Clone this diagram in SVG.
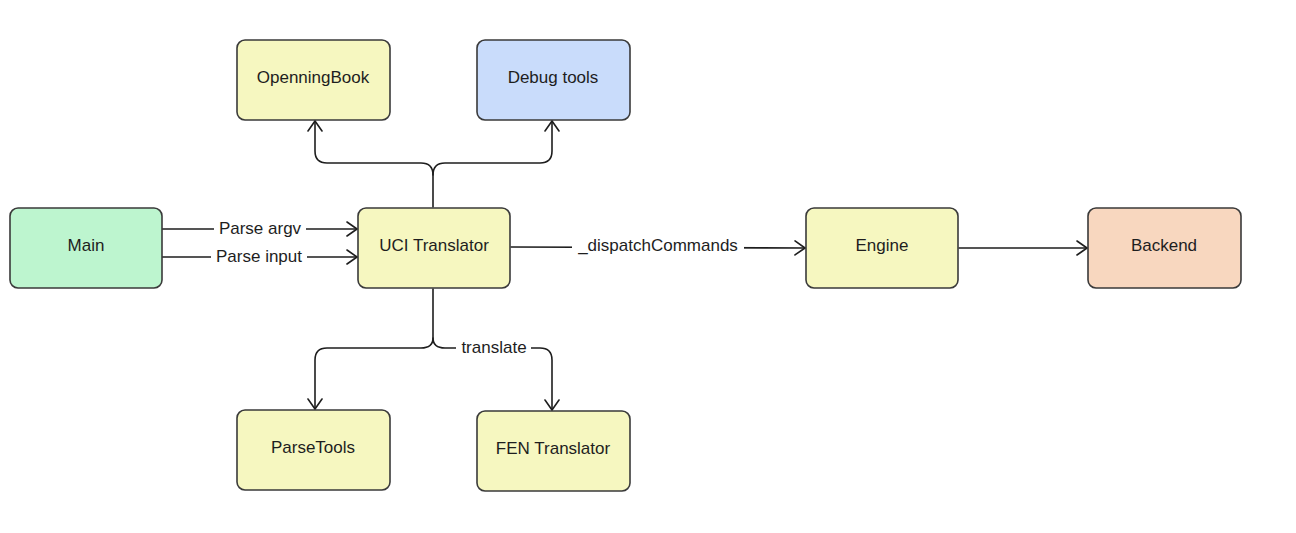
<svg xmlns="http://www.w3.org/2000/svg" width="1296" height="533" viewBox="0 0 1296 533">
<style>
.node rect{stroke:#3a3a3a;stroke-width:1.6}
.node text{font-family:"Liberation Sans",Arial,sans-serif;font-size:17px;fill:#1e1e1e;text-anchor:middle;dominant-baseline:central}
.y{fill:#f6f7c0}
.g{fill:#bdf5cf}
.b{fill:#c9dcfb}
.o{fill:#f8d7bf}
.edge{fill:none;stroke:#1e1e1e;stroke-width:1.6;stroke-linecap:round;stroke-linejoin:round}
.lbl{font-family:"Liberation Sans",Arial,sans-serif;font-size:17px;fill:#1e1e1e;text-anchor:middle;dominant-baseline:central}
.lblbg{fill:#ffffff}
</style>
<defs>
<marker id="arr" viewBox="0 0 12 16" refX="11" refY="8" markerWidth="12" markerHeight="16" markerUnits="userSpaceOnUse" orient="auto">
<path d="M1,1 L11,8 L1,15" fill="none" stroke="#1e1e1e" stroke-width="1.6" stroke-linecap="round" stroke-linejoin="round"/>
</marker>
</defs>
<rect width="1296" height="533" fill="#ffffff"/>
<g id="connectors">
<path class="edge" d="M162,229 L357,229" marker-end="url(#arr)"/>
<path class="edge" d="M162,257 L357,257" marker-end="url(#arr)"/>
<path class="edge" d="M433,207 L433,175 Q433,163 421,163 L327,163 Q315,163 315,151 L315,121" marker-end="url(#arr)"/>
<path class="edge" d="M433,175 Q433,163 445,163 L540,163 Q552,163 552,151 L552,121" marker-end="url(#arr)"/>
<path class="edge" d="M433,289 L433,338 Q433,348 421,348 L327,348 Q315,348 315,360 L315,409" marker-end="url(#arr)"/>
<path class="edge" d="M433,338 Q433,348 445,348 L540,348 Q552,348 552,360 L552,410" marker-end="url(#arr)"/>
<path class="edge" d="M511,247 L805,248" marker-end="url(#arr)"/>
<path class="edge" d="M959,248 L1087,248" marker-end="url(#arr)"/>
<rect class="lblbg" x="214" y="218" width="92" height="22"/>
<text class="lbl" x="260" y="228">Parse argv</text>
<rect class="lblbg" x="211" y="246" width="96" height="22"/>
<text class="lbl" x="259" y="256">Parse input</text>
<rect class="lblbg" x="456" y="337" width="75" height="22"/>
<text class="lbl" x="494" y="347">translate</text>
<rect class="lblbg" x="572" y="234" width="172" height="22"/>
<text class="lbl" x="658" y="245">_dispatchCommands</text>
</g>
<g id="main" class="node"><rect class="g" x="10" y="208" width="152" height="80" rx="8"/><text x="86" y="245">Main</text></g>
<g id="uci" class="node"><rect class="y" x="358" y="208" width="152" height="80" rx="8"/><text x="434" y="245">UCI Translator</text></g>
<g id="openningbook" class="node"><rect class="y" x="237" y="40" width="153" height="80" rx="8"/><text x="313" y="77">OpenningBook</text></g>
<g id="debugtools" class="node"><rect class="b" x="477" y="40" width="153" height="80" rx="8"/><text x="553" y="77">Debug tools</text></g>
<g id="engine" class="node"><rect class="y" x="806" y="208" width="152" height="80" rx="8"/><text x="882" y="245">Engine</text></g>
<g id="backend" class="node"><rect class="o" x="1088" y="208" width="153" height="80" rx="8"/><text x="1164" y="245">Backend</text></g>
<g id="parsetools" class="node"><rect class="y" x="237" y="410" width="153" height="80" rx="8"/><text x="313" y="447">ParseTools</text></g>
<g id="fentranslator" class="node"><rect class="y" x="477" y="411" width="153" height="80" rx="8"/><text x="553" y="448">FEN Translator</text></g>
</svg>
